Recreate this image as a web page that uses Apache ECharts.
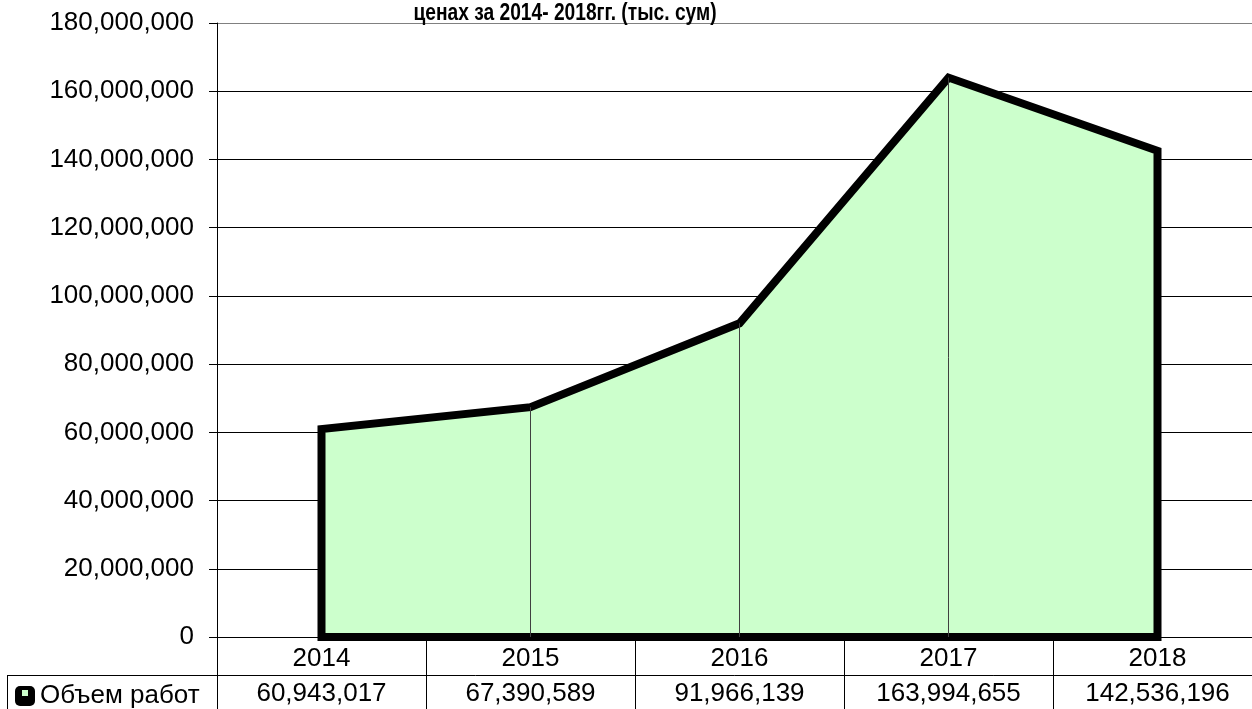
<!DOCTYPE html>
<html>
<head>
<meta charset="utf-8">
<script src="https://cdn.jsdelivr.net/npm/echarts@6/dist/echarts.min.js"></script>
<style>html,body{margin:0;padding:0;background:#fff;}#c{width:1252px;height:709px;}</style>
</head>
<body>
<div id="c"></div>
<script>
const years = ['2014', '2015', '2016', '2017', '2018'];
const volumes = [60943017, 67390589, 91966139, 163994655, 142536196];
const seriesName = 'Объем работ';
const titleText = 'ценах за 2014- 2018гг. (тыс. сум)';
const yMin = 0, yMax = 180000000, yStep = 20000000;

const fmt = v => Math.round(v).toString().replace(/\B(?=(\d{3})+(?!\d))/g, ',');
const FONT = '"Liberation Sans", Arial, sans-serif';

// closed outline: drop at first, across the values, drop at last, back along zero
const outline = [[0, 0]]
  .concat(volumes.map((v, i) => [i, v]))
  .concat([[volumes.length - 1, 0], [0, 0]]);

const dropLines = volumes.map((v, i) => [{ coord: [i, 0] }, { coord: [i, v] }])
  .slice(1, volumes.length - 1);

const chart = echarts.init(document.getElementById('c'), null, { renderer: 'canvas' });
chart.setOption({
  animation: false,
  backgroundColor: '#fff',
  textStyle: { fontFamily: FONT },
  grid: { left: 217, top: 23, width: 1045, height: 614, containLabel: false, outerBoundsMode: 'none' },
  graphic: [
    { type: 'text', x: 565, y: 25, scaleX: 0.80, z: 10,
      style: { text: titleText, x: 0, y: 0, align: 'center', verticalAlign: 'bottom',
        font: 'bold 24px "Liberation Sans", Arial, sans-serif', fill: '#000' } },
    { type: 'line', shape: { x1: 7, y1: 675.5, x2: 217, y2: 675.5 }, style: { stroke: '#000', lineWidth: 1 } },
    { type: 'line', shape: { x1: 7.5, y1: 675, x2: 7.5, y2: 709 }, style: { stroke: '#000', lineWidth: 1 } },
    { type: 'rect', shape: { x: 22, y: 690, width: 6, height: 6 }, style: { fill: '#ccffcc' }, z: 100 }
  ],
  legend: {
    data: [seriesName], left: 15, top: 683, padding: 0, icon: 'roundRect', itemWidth: 20, itemHeight: 20,
    itemStyle: { color: '#000', borderWidth: 0 },
    textStyle: { fontSize: 26, color: '#000', fontFamily: FONT }
  },
  xAxis: [
    {
      type: 'category', data: years, position: 'bottom', boundaryGap: true,
      axisLine: { show: true, lineStyle: { color: '#000', width: 1 } },
      axisTick: { show: true, length: 38, interval: 0, lineStyle: { color: '#000' } },
      axisLabel: { fontSize: 26, color: '#000', margin: 9, fontFamily: FONT },
      splitLine: { show: false }
    },
    {
      type: 'value', min: -0.5, max: volumes.length - 0.5, show: false
    },
    {
      type: 'category', data: volumes.map(fmt), position: 'bottom', offset: 38, boundaryGap: true,
      axisLine: { show: true, lineStyle: { color: '#000', width: 1 } },
      axisTick: { show: true, length: 40, interval: 0, lineStyle: { color: '#000' } },
      axisLabel: { fontSize: 26, color: '#000', margin: 6, fontFamily: FONT },
      splitLine: { show: false }
    }
  ],
  yAxis: {
    type: 'value', min: yMin, max: yMax, interval: yStep,
    axisLine: { show: true, onZero: false, lineStyle: { color: '#000', width: 1 } },
    axisTick: { show: true, length: 8, lineStyle: { color: '#000' } },
    axisLabel: { fontSize: 26, color: '#000', margin: 23, formatter: v => fmt(v), fontFamily: FONT },
    splitLine: { show: true, lineStyle: { color: ['#000','#000','#000','#000','#000','#000','#000','#000','#000','#808080'], width: 1 } }
  },
  series: [
    {
      name: seriesName, type: 'line', xAxisIndex: 1, data: outline, symbol: 'none', clip: false,
      lineStyle: { color: '#000', width: 8, join: 'miter', cap: 'square' },
      itemStyle: { color: '#ccffcc', borderColor: '#000' },
      areaStyle: { color: '#ccffcc', opacity: 1 },
      markLine: {
        silent: true, symbol: 'none', label: { show: false },
        lineStyle: { color: '#404040', width: 1, type: 'solid' },
        data: dropLines
      },
      z: 3
    }
  ]
});
</script>
</body>
</html>
